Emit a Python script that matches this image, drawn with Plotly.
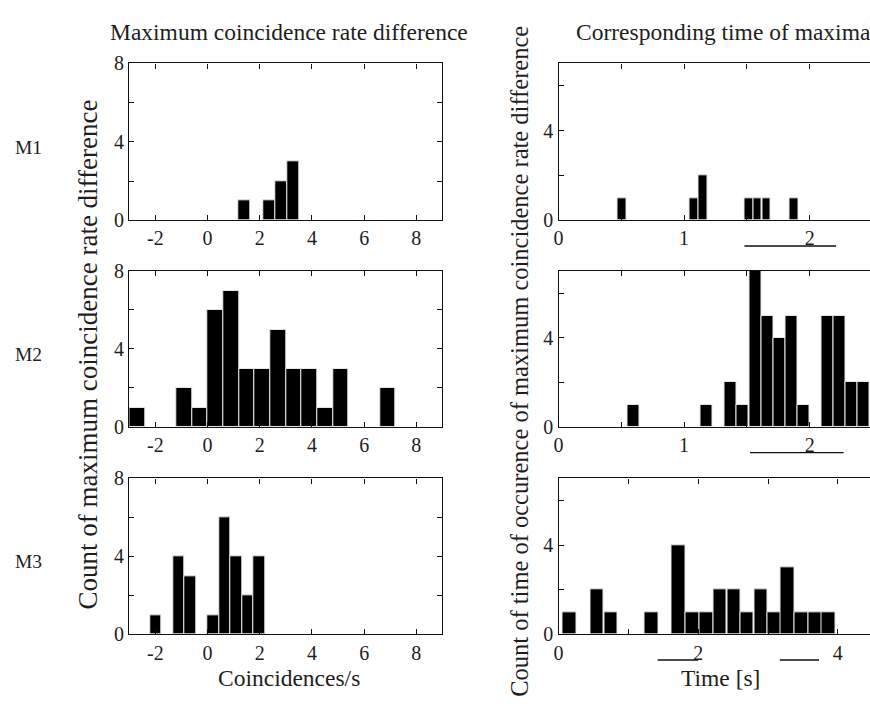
import plotly.graph_objects as go

# ---- data -------------------------------------------------------------
row_labels = ["M1", "M2", "M3"]

# maximum coincidence-rate difference histograms (bin centres, counts, bin width)
rate_centres = [
    [1.41, 2.35, 2.82, 3.29],
    [-2.7, -0.9, -0.3, 0.3, 0.9, 1.5, 2.1, 2.7, 3.3, 3.9, 4.5, 5.1, 6.9],
    [-1.98, -1.1, -0.66, 0.22, 0.66, 1.1, 1.54, 1.98],
]
rate_counts = [
    [1, 1, 2, 3],
    [1, 2, 1, 6, 7, 3, 3, 5, 3, 3, 1, 3, 2],
    [1, 4, 3, 1, 6, 4, 2, 4],
]
rate_widths = [0.47, 0.6, 0.44]

# time of the maxima histograms
time_centres = [
    [0.507, 1.08, 1.153, 1.515, 1.584, 1.656, 1.875],
    [0.597, 1.178, 1.37, 1.467, 1.565, 1.663, 1.757, 1.855, 1.953, 2.144, 2.24, 2.335, 2.43],
    [0.161, 0.552, 0.749, 1.335, 1.72, 1.92, 2.12, 2.31, 2.51, 2.70, 2.90, 3.09, 3.28, 3.48,
     3.68, 3.87],
]
time_counts = [
    [1, 1, 2, 1, 1, 1, 1],
    [1, 1, 2, 1, 7, 5, 4, 5, 1, 5, 5, 2, 2],
    [1, 2, 1, 1, 4, 1, 1, 2, 2, 1, 2, 1, 3, 1, 1, 1],
]
time_widths = [0.07, 0.0965, 0.195]

# behavioural epochs marked under the time axes [start, end]
epochs = [
    [[1.48, 2.21]],
    [[1.525, 2.27]],
    [[1.42, 2.0], [3.17, 3.73]],
]

rate_ticks = [-2, 0, 2, 4, 6, 8]
rate_ticktext = ["-2", "0", "2", "4", "6", "8"]
time_ticks = [[0, 0.5, 1, 1.5, 2], [0, 0.5, 1, 1.5, 2], [0, 1, 2, 3, 4]]
time_ticktext = [["0", "", "1", "", "2"], ["0", "", "1", "", "2"], ["0", "", "2", "", "4"]]
time_ranges = [[0, 2.48], [0, 2.48], [0, 4.46]]

# ---- layout geometry (pixels) ----------------------------------------
W, H = 870, 709
FONT = "Liberation Serif"
TXT = "#1e1e1e"
rows_px = [(54, 216), (268.3, 429.3), (482.3, 643.3)]
left_px = (125, 440)
right_px = (556.7, 870)


def px(x):
    return x / W


def py(y):
    return 1 - y / H


fig = go.Figure()
layout = dict(
    width=W, height=H, margin=dict(l=0, r=0, t=0, b=0),
    paper_bgcolor="white", plot_bgcolor="white", showlegend=False,
    font=dict(family=FONT, size=19, color=TXT), bargap=0,
)

axis_common = dict(
    showgrid=False, zeroline=False, showline=True, linecolor="#111", linewidth=1.4,
    ticks="inside", ticklen=5, tickwidth=1, tickcolor="#111",
    tickfont=dict(family=FONT, size=20, color=TXT), fixedrange=True,
)

shapes = []
for i in range(3):
    top, bot = rows_px[i]
    ydom = [py(bot), py(top)]

    # left column: coincidence-rate difference
    k = i + 1
    xa, ya = f"x{k}" if k > 1 else "x", f"y{k}" if k > 1 else "y"
    fig.add_trace(go.Bar(
        x=rate_centres[i], y=rate_counts[i], width=rate_widths[i],
        marker=dict(color="black", line=dict(color="#e8e8e8", width=1)),
        xaxis=xa, yaxis=ya, hoverinfo="skip",
    ))
    layout[f"xaxis{k if k > 1 else ''}"] = dict(
        axis_common, domain=[px(left_px[0]), px(left_px[1])], range=[-3, 9],
        tickvals=rate_ticks, ticktext=rate_ticktext, mirror="ticks", anchor=ya,
    )
    layout[f"yaxis{k if k > 1 else ''}"] = dict(
        axis_common, domain=ydom, range=[0, 8], tickvals=[0, 2, 4, 6, 8],
        ticktext=["0", "", "4", "", "8"], mirror="ticks", anchor=xa,
    )

    # right column: time of the maxima
    k = i + 4
    xa, ya = f"x{k}", f"y{k}"
    fig.add_trace(go.Bar(
        x=time_centres[i], y=time_counts[i], width=time_widths[i],
        marker=dict(color="black", line=dict(color="#e8e8e8", width=1)),
        xaxis=xa, yaxis=ya, hoverinfo="skip", cliponaxis=True,
    ))
    layout[f"xaxis{k}"] = dict(
        axis_common, domain=[px(right_px[0]), 1.0], range=time_ranges[i],
        tickvals=time_ticks[i], ticktext=time_ticktext[i], mirror="ticks", anchor=ya,
    )
    layout[f"yaxis{k}"] = dict(
        axis_common, domain=ydom, range=[0, 7], tickvals=[0, 2, 4, 6],
        ticktext=["0", "", "4", ""], mirror=False, anchor=xa,
    )

    # epoch bars drawn below the time axis
    off = -26.5 / (bot - top)
    for s, e in epochs[i]:
        shapes.append(dict(
            type="line", xref=xa, yref=f"{ya} domain", x0=s, x1=e, y0=off, y1=off,
            line=dict(color="#111", width=1.4),
        ))

ann = []
ann.append(dict(text="Maximum coincidence rate difference", x=px(285.5), y=py(22),
                xanchor="center", yanchor="middle", font=dict(size=23.5)))
ann.append(dict(text="Corresponding time of maxima", x=px(572), y=py(22),
                xanchor="left", yanchor="middle", font=dict(size=23.5)))
ann.append(dict(text="Coincidences/s", x=px(286), y=py(688),
                xanchor="center", yanchor="middle", font=dict(size=23.5)))
ann.append(dict(text="Time [s]", x=px(720), y=py(688),
                xanchor="center", yanchor="middle", font=dict(size=23.5)))
ann.append(dict(text="Count of maximum coincidence rate difference", x=px(83), y=py(355),
                xanchor="center", yanchor="middle", textangle=-90, font=dict(size=27)))
ann.append(dict(text="Count of time of occurence of maximum coincidence rate difference",
                x=px(518), y=py(362), xanchor="center", yanchor="middle", textangle=-90,
                font=dict(size=24.5)))
for lab, yy in zip(row_labels, [141, 354, 568]):
    ann.append(dict(text=lab, x=px(8), y=py(yy), xanchor="left", yanchor="middle",
                    font=dict(size=19.5)))
for a in ann:
    a.update(xref="paper", yref="paper", showarrow=False)
    a["font"] = dict(family=FONT, color=TXT, **a["font"])

layout["annotations"] = ann
layout["shapes"] = shapes
fig.update_layout(**layout)
fig.write_html("out.html")
